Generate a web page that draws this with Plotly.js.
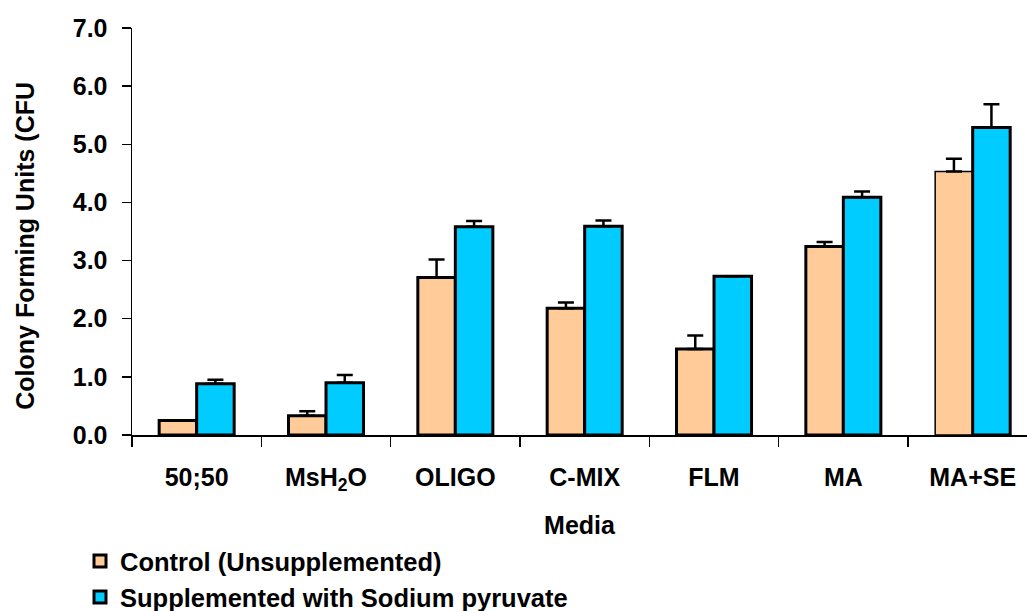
<!DOCTYPE html>
<html>
<head>
<meta charset="utf-8">
<script src="https://cdn.plot.ly/plotly-3.0.1.min.js"></script>
<style>html,body{margin:0;padding:0;background:#fff;}#chart{width:1027px;height:611px;}</style>
</head>
<body>
<div id="chart"></div>
<script>
const categories = ["50;50", "MsH<sub>2</sub>O", "OLIGO", "C-MIX", "FLM", "MA", "MA+SE"];
const controlValues = [0.25, 0.33, 2.71, 2.18, 1.48, 3.24, 4.53];
const controlErrors = [0, 0.08, 0.31, 0.10, 0.23, 0.08, 0.22];
const suppValues = [0.88, 0.90, 3.58, 3.59, 2.73, 4.09, 5.29];
const suppErrors = [0.07, 0.13, 0.10, 0.10, 0, 0.10, 0.40];
const seriesNames = ["Control (Unsupplemented)", "Supplemented with Sodium pyruvate"];
const yTicks = [0, 1, 2, 3, 4, 5, 6, 7];
const yTickText = ["0.0", "1.0", "2.0", "3.0", "4.0", "5.0", "6.0", "7.0"];

const font = "Liberation Sans, Arial, sans-serif";
const big = 25;

const traces = [
  {
    type: "bar", name: seriesNames[0], x: categories, y: controlValues,
    legendgroup: "a",
    marker: {color: "#FFCC99", line: {color: "#000", width: [3,3,3,3,3,3,1.5]}},
    error_y: {type: "data", array: controlErrors, visible: true, symmetric: false, arrayminus: controlErrors.map(() => 0), color: "#000", thickness: 2.5, width: 8}
  },
  {
    type: "bar", name: seriesNames[1], x: categories, y: suppValues,
    legendgroup: "b",
    marker: {color: "#00CCFF", line: {color: "#000", width: 3}},
    error_y: {type: "data", array: suppErrors, visible: true, symmetric: false, arrayminus: suppErrors.map(() => 0), color: "#000", thickness: 2.5, width: 8}
  }
];

const L = 132, R = 1027, T = 27.5, B = 435;
const layout = {
  width: 1027, height: 611,
  margin: {l: L, r: 0, t: T, b: 611 - B, pad: 0, autoexpand: false},
  paper_bgcolor: "#fff", plot_bgcolor: "#fff",
  barmode: "group", bargap: 0.42, bargroupgap: 0,
  showlegend: true,
  legend: {x: (80 - L) / (R - L), y: (B - 538) / (B - T), xanchor: "left", yanchor: "top",
           font: {family: font, size: 25.5, color: "#000", weight: "bold"}, tracegroupgap: 0,
           bgcolor: "rgba(0,0,0,0)", itemwidth: 30},
  xaxis: {
    type: "category", range: [-0.5, 6.42], tickson: "boundaries", ticks: "outside", ticklen: 10,
    tickcolor: "#000", tickwidth: 1.5, showline: true, linecolor: "#000", linewidth: 1.5,
    showgrid: false, zeroline: false, ticklabelstandoff: 19,
    tickfont: {family: font, size: big, color: "#000", weight: "bold"},
    title: {text: "Media", font: {family: font, size: 25, color: "#000", weight: "bold"}, standoff: 22}
  },
  yaxis: {
    range: [0, 7], tickvals: yTicks, ticktext: yTickText, ticks: "outside", ticklen: 9,
    tickcolor: "#000", tickwidth: 1.5, showline: true, linecolor: "#000", linewidth: 1.5,
    showgrid: false, zeroline: false, ticklabelstandoff: 9,
    tickfont: {family: font, size: big, color: "#000", weight: "bold"}
  },
  annotations: [{
    text: "Colony Forming Units (CFU", textangle: -90, showarrow: false,
    xref: "paper", yref: "paper", x: (25.5 - L) / (R - L), y: (B - 246) / (B - T),
    xanchor: "center", yanchor: "middle",
    font: {family: font, size: 25, color: "#000", weight: "bold"}
  }]
};

Plotly.newPlot("chart", traces, layout, {displayModeBar: false, staticPlot: true});
</script>
</body>
</html>
